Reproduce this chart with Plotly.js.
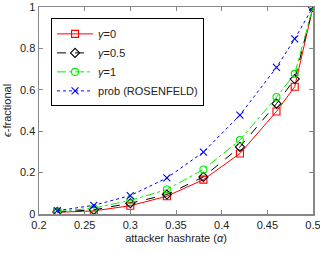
<!DOCTYPE html>
<html><head><meta charset="utf-8">
<script src="https://cdn.plot.ly/plotly-3.0.1.min.js"></script>
<style>html,body{margin:0;padding:0;background:#fff;}#c{width:320px;height:254px;}</style>
</head><body><div id="c"></div>
<script>
var alpha = [0.22, 0.26, 0.30, 0.34, 0.38, 0.42, 0.46, 0.48, 0.50];
var gamma0 = [0.008, 0.015, 0.040, 0.086, 0.166, 0.292, 0.495, 0.615, 1.0];
var gamma05 = [0.010, 0.020, 0.052, 0.094, 0.179, 0.324, 0.533, 0.652, 1.0];
var gamma1 = [0.012, 0.028, 0.066, 0.118, 0.215, 0.357, 0.565, 0.677, 1.0];
var rosenfeld = [0.016, 0.042, 0.089, 0.174, 0.299, 0.478, 0.708, 0.846, 1.0];
var names = ['<i>γ</i>=0', '<i>γ</i>=0.5', '<i>γ</i>=1', 'prob (ROSENFELD)'];
var xTicks = [0.2, 0.25, 0.3, 0.35, 0.4, 0.45, 0.5];
var xTickText = ['0.2', '0.25', '0.3', '0.35', '0.4', '0.45', '0.5'];
var yTicks = [0, 0.2, 0.4, 0.6, 0.8, 1];
var yTickText = ['0', '0.2', '0.4', '0.6', '0.8', '1'];

var series = [gamma0, gamma05, gamma1, rosenfeld];
var colors = ['#ff0000', '#000000', '#00ee00', '#0000ff'];
var dashes = ['solid', 'dash', 'dashdot', 'dot'];
var symbols = ['square-open', 'diamond-open', 'circle-open', 'x-thin-open'];
var traces = series.map(function(s, i){
  return {x: alpha, y: s, name: names[i], type: 'scatter', mode: 'lines+markers',
    line: {color: colors[i], width: 1, dash: dashes[i]},
    marker: {symbol: symbols[i], size: 7, color: colors[i], line: {color: colors[i], width: 1.1}}};
});
var axisCommon = {showgrid: false, zeroline: false, showline: true, linecolor: '#888', linewidth: 1.5,
  mirror: 'ticks', ticks: 'inside', ticklen: 4, tickcolor: '#888', tickwidth: 1,
  ticklabeloverflow: 'allow',
  tickfont: {family: 'Liberation Sans, Arial, sans-serif', size: 11, color: '#222'}};
var layout = {
  width: 320, height: 254, paper_bgcolor: '#fff', plot_bgcolor: '#fff',
  margin: {l: 39, r: 7, t: 7, b: 40},
  showlegend: true,
  font: {family: 'Liberation Sans, Arial, sans-serif', color: '#222'},
  xaxis: Object.assign({}, axisCommon, {range: [0.2, 0.5], tickvals: xTicks, ticktext: xTickText,
    title: {text: 'attacker hashrate (<i>α</i>)', font: {size: 11}, standoff: 4}}),
  yaxis: Object.assign({}, axisCommon, {range: [0, 1], tickvals: yTicks, ticktext: yTickText,
    title: {text: '<i>ϵ</i>-fractional', font: {size: 11}, standoff: 6}}),
  legend: {x: 0.044, y: 0.945, xanchor: 'left', yanchor: 'top', bgcolor: '#fff',
    bordercolor: '#000', borderwidth: 1, font: {size: 11, color: '#222'},
    itemwidth: 36, tracegroupgap: 0}
};
Plotly.newPlot('c', traces, layout, {displayModeBar: false, staticPlot: true});
</script></body></html>
